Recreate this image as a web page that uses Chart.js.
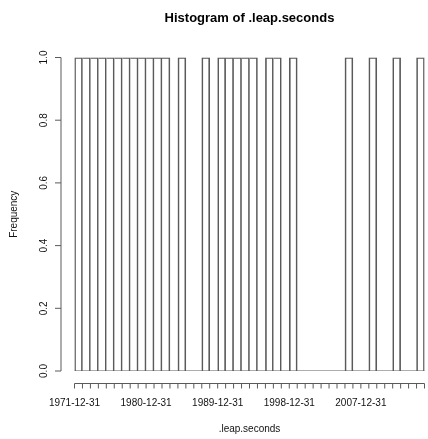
<!DOCTYPE html>
<html>
<head>
<meta charset="utf-8">
<script src="https://cdn.jsdelivr.net/npm/chart.js@4"></script>
<style>
  html, body { margin: 0; padding: 0; background: #fff; }
  #wrap { width: 428px; height: 439px; position: relative; }
</style>
</head>
<body>
<div id="wrap"><canvas id="histo"></canvas></div>
<script>
// Histograma de .leap.seconds (un bin por año)

const binYears = [1972, 1973, 1974, 1975, 1976, 1977, 1978, 1979, 1980, 1981, 1982,
    1983, 1984, 1985, 1986, 1987, 1988, 1989, 1990, 1991, 1992, 1993, 1994, 1995,
    1996, 1997, 1998, 1999, 2000, 2001, 2002, 2003, 2004, 2005, 2006, 2007, 2008,
    2009, 2010, 2011, 2012, 2013, 2014, 2015];
const frecuencias = [1, 1, 1, 1, 1, 1, 1, 1, 1, 1, 1,
    1, 0, 1, 0, 0, 1, 0, 1, 1, 1, 1, 1, 0,
    1, 1, 0, 1, 0, 0, 0, 0, 0, 0, 1, 0, 0,
    1, 0, 0, 1, 0, 0, 1];

const yTicks = [0, 0.2, 0.4, 0.6, 0.8, 1.0];
const yTickLabels = ['0.0', '0.2', '0.4', '0.6', '0.8', '1.0'];
const xTickYears = [1972, 1973, 1974, 1975, 1976, 1977, 1978, 1979, 1980, 1981, 1982,
    1983, 1984, 1985, 1986, 1987, 1988, 1989, 1990, 1991, 1992, 1993, 1994, 1995,
    1996, 1997, 1998, 1999, 2000, 2001, 2002, 2003, 2004, 2005, 2006, 2007, 2008,
    2009, 2010, 2011, 2012, 2013, 2014, 2015, 2016];
const xLabelYears = [1972, 1981, 1990, 1999, 2008];
const xLabels = ['1971-12-31', '1980-12-31', '1989-12-31', '1998-12-31', '2007-12-31'];

const titulo = 'Histogram of .leap.seconds';
const tituloX = '.leap.seconds';
const tituloY = 'Frequency';

const FUENTE = "'Liberation Sans', Arial, Helvetica, sans-serif";
const GRIS = '#5a5a5a';

// Ejes al estilo R (separados del área del gráfico)
const ejesR = {
    id: 'ejesR',
    afterDraw(chart) {
        const { ctx, chartArea, scales } = chart;
        const x = scales.x;
        const y = scales.y;
        ctx.save();
        ctx.strokeStyle = GRIS;
        ctx.lineWidth = 1;
        ctx.fillStyle = '#111';

        // eje Y
        const ax = 61;
        ctx.beginPath();
        ctx.moveTo(ax, y.getPixelForValue(yTicks[0]));
        ctx.lineTo(ax, y.getPixelForValue(yTicks[yTicks.length - 1]));
        yTicks.forEach(function(v) {
            const py = y.getPixelForValue(v);
            ctx.moveTo(ax, py);
            ctx.lineTo(ax - 6, py);
        });
        ctx.stroke();

        ctx.font = '10px ' + FUENTE;
        ctx.textAlign = 'center';
        ctx.textBaseline = 'middle';
        yTicks.forEach(function(v, i) {
            const py = y.getPixelForValue(v);
            ctx.save();
            ctx.translate(44, py);
            ctx.rotate(-Math.PI / 2);
            ctx.fillText(yTickLabels[i], 0, 0);
            ctx.restore();
        });

        // eje X
        const ay = 383.5;
        ctx.beginPath();
        ctx.moveTo(x.getPixelForValue(xTickYears[0]), ay);
        ctx.lineTo(x.getPixelForValue(xTickYears[xTickYears.length - 1]), ay);
        xTickYears.forEach(function(v) {
            const px = x.getPixelForValue(v);
            ctx.moveTo(px, ay);
            ctx.lineTo(px, ay + 5);
        });
        ctx.stroke();

        xLabelYears.forEach(function(v, i) {
            ctx.fillText(xLabels[i], x.getPixelForValue(v), 403);
        });

        // títulos
        const cx = (chartArea.left + chartArea.right) / 2;
        ctx.fillText(tituloX, cx, 429);
        ctx.save();
        ctx.translate(14, (chartArea.top + chartArea.bottom) / 2);
        ctx.rotate(-Math.PI / 2);
        ctx.fillText(tituloY, 0, 0);
        ctx.restore();

        ctx.font = 'bold 13px ' + FUENTE;
        ctx.fillStyle = '#000';
        ctx.fillText(titulo, cx, 18);
        ctx.restore();
    }
};

const puntos = binYears.map(function(a, i) {
    return { x: a + 0.5, y: frecuencias[i] };
});

new Chart(document.getElementById('histo'), {
    type: 'bar',
    data: {
        datasets: [{
            label: tituloY,
            data: puntos,
            backgroundColor: 'rgba(0,0,0,0)',
            borderColor: GRIS,
            borderSkipped: false,
            // evitar líneas dobles entre barras contiguas
            borderWidth: function(c) {
                const i = c.dataIndex;
                const previo = i > 0 ? frecuencias[i - 1] : 0;
                return { top: 1, right: 1, bottom: 0, left: previo > 0 ? 0 : 1 };
            },
            barPercentage: 1,
            categoryPercentage: 1,
            order: 1
        }, {
            // línea base de los bins vacíos
            type: 'line',
            label: 'base',
            data: [{ x: xTickYears[0], y: 0 }, { x: xTickYears[xTickYears.length - 1], y: 0 }],
            borderColor: GRIS,
            borderWidth: 1,
            pointRadius: 0,
            fill: false,
            order: 0
        }]
    },
    options: {
        responsive: true,
        maintainAspectRatio: false,
        animation: false,
        layout: {
            padding: { left: 74.5, right: 3.5, top: 57.5, bottom: 68 }
        },
        plugins: {
            legend: { display: false },
            title: { display: false },
            tooltip: { enabled: false }
        },
        scales: {
            x: {
                type: 'linear',
                min: xTickYears[0],
                max: xTickYears[xTickYears.length - 1],
                offset: false,
                display: false
            },
            y: {
                min: 0,
                max: 1,
                display: false
            }
        }
    },
    plugins: [ejesR]
});
</script>
</body>
</html>
